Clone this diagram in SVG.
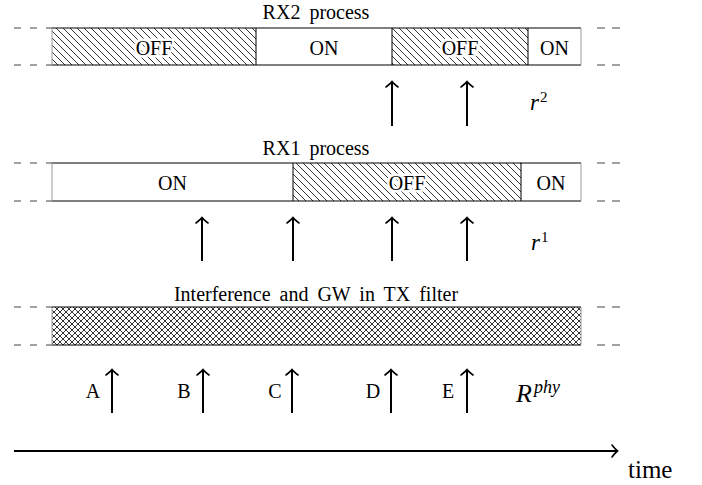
<svg xmlns="http://www.w3.org/2000/svg" width="702" height="485" viewBox="0 0 702 485">
  <style>
    text { font-family: "Liberation Serif", "Times New Roman", serif; fill: #000; }
    .lbl { font-size: 20px; text-anchor: middle; }
    .title { font-size: 20px; text-anchor: middle; word-spacing: 4px; }
    .halo { paint-order: stroke; stroke: #fff; stroke-width: 5px; stroke-linejoin: round; }
    .math { font-style: italic; }
    .edge { stroke: #000; stroke-width: 1; fill: none; }
    .side { stroke: #999; stroke-width: 1; fill: none; }
    .dashL { stroke: #444; stroke-width: 1; stroke-dasharray: 7 9; fill: none; }
    .dashR { stroke: #444; stroke-width: 1; stroke-dasharray: 8 7; fill: none; }
    .arrow { stroke: #000; stroke-width: 2; fill: none; marker-end: url(#tip); }
    .axis { stroke: #000; stroke-width: 2; fill: none; marker-end: url(#tip); }
  </style>
  <defs>
    <pattern id="nwlines" width="7" height="7" patternUnits="userSpaceOnUse">
      <path d="M-1,-1 L8,8 M-1,6 L1,8 M6,-1 L8,1" stroke="#000" stroke-width="0.8" fill="none"/>
    </pattern>
    <pattern id="cross" width="6" height="6" patternUnits="userSpaceOnUse">
      <path d="M-1,-1 L7,7 M-1,5 L1,7 M5,-1 L7,1 M-1,7 L7,-1 M-1,1 L1,-1 M5,7 L7,5" stroke="#000" stroke-width="0.8" fill="none"/>
    </pattern>
    <marker id="tip" markerUnits="userSpaceOnUse" markerWidth="16" markerHeight="16" viewBox="-8 -8 16 16" refX="0" refY="0" orient="auto" overflow="visible">
      <path d="M-5,-6 Q-1.5,-1.5 0.5,0 Q-1.5,1.5 -5,6" stroke="#000" stroke-width="1.6" fill="none" stroke-linecap="round"/>
    </marker>
  </defs>

  <!-- RX2 process -->
  <g id="rx2">
    <text class="title" x="316" y="19">RX2 process</text>
    <rect x="52" y="28" width="204" height="37" fill="url(#nwlines)"/>
    <rect x="256" y="28" width="136" height="37" fill="#fff"/>
    <rect x="392" y="28" width="136" height="37" fill="url(#nwlines)"/>
    <rect x="528" y="28" width="53" height="37" fill="#fff"/>
    <path class="edge" d="M52,28 H581 M52,65 H581 M256,28 V65 M392,28 V65 M528,28 V65"/>
    <path class="side" d="M52,28 V65 M581,28 V65"/>
    <path class="dashL" d="M14,28 H52 M14,65 H52"/>
    <path class="dashR" d="M597,28 H620 M597,65 H620"/>
    <text class="lbl halo" x="154" y="55">OFF</text>
    <text class="lbl" x="324" y="55">ON</text>
    <text class="lbl halo" x="460" y="55">OFF</text>
    <text class="lbl" x="554.5" y="55">ON</text>
  </g>

  <!-- RX1 process -->
  <g id="rx1">
    <text class="title" x="316" y="155">RX1 process</text>
    <rect x="52" y="163" width="241" height="38" fill="#fff"/>
    <rect x="293" y="163" width="228" height="38" fill="url(#nwlines)"/>
    <rect x="521" y="163" width="60" height="38" fill="#fff"/>
    <path class="edge" d="M52,163 H581 M52,201 H581 M293,163 V201 M521,163 V201"/>
    <path class="side" d="M52,163 V201 M581,163 V201"/>
    <path class="dashL" d="M14,163 H52 M14,201 H52"/>
    <path class="dashR" d="M597,163 H620 M597,201 H620"/>
    <text class="lbl" x="172.5" y="190">ON</text>
    <text class="lbl halo" x="407" y="190">OFF</text>
    <text class="lbl" x="551" y="190">ON</text>
  </g>

  <!-- Interference -->
  <g id="interference">
    <text class="title" x="316" y="301">Interference and GW in TX filter</text>
    <rect x="52" y="307" width="529" height="38" fill="url(#cross)"/>
    <path class="edge" d="M52,307 H581 M52,345 H581"/>
    <path class="side" d="M52,307 V345 M581,307 V345"/>
    <path class="dashL" d="M14,307 H52 M14,345 H52"/>
    <path class="dashR" d="M597,307 H620 M597,345 H620"/>
  </g>

  <!-- row labels -->
  <g id="label-r2">
    <text class="math" x="530" y="110" font-size="23">r<tspan font-size="15" font-style="normal" dx="1" dy="-8">2</tspan></text>
  </g>
  <g id="label-r1">
    <text class="math" x="531" y="250" font-size="23">r<tspan font-size="15" font-style="normal" dx="1" dy="-8">1</tspan></text>
  </g>
  <g id="label-rphy">
    <text class="math" x="516" y="402" font-size="26">R<tspan font-size="18" dx="2" dy="-9">phy</tspan></text>
  </g>

  <!-- event labels -->
  <g id="events">
    <text class="lbl" x="93" y="398">A</text>
    <text class="lbl" x="184" y="398">B</text>
    <text class="lbl" x="275" y="398">C</text>
    <text class="lbl" x="373" y="398">D</text>
    <text class="lbl" x="448" y="398">E</text>
  </g>

  <!-- connectors -->
  <g id="connectors">
    <line class="arrow" x1="392" y1="126" x2="392" y2="82"/>
    <line class="arrow" x1="467" y1="126" x2="467" y2="82"/>

    <line class="arrow" x1="202" y1="261" x2="202" y2="218"/>
    <line class="arrow" x1="293" y1="261" x2="293" y2="218"/>
    <line class="arrow" x1="392" y1="261" x2="392" y2="218"/>
    <line class="arrow" x1="467" y1="261" x2="467" y2="218"/>

    <line class="arrow" x1="112" y1="413" x2="112" y2="370"/>
    <line class="arrow" x1="203" y1="413" x2="203" y2="370"/>
    <line class="arrow" x1="292" y1="413" x2="292" y2="370"/>
    <line class="arrow" x1="391" y1="413" x2="391" y2="370"/>
    <line class="arrow" x1="467" y1="413" x2="467" y2="370"/>

    <line class="axis" x1="14" y1="451" x2="617" y2="451"/>
  </g>

  <g id="time-label">
    <text x="628" y="478" font-size="25">time</text>
  </g>
</svg>
